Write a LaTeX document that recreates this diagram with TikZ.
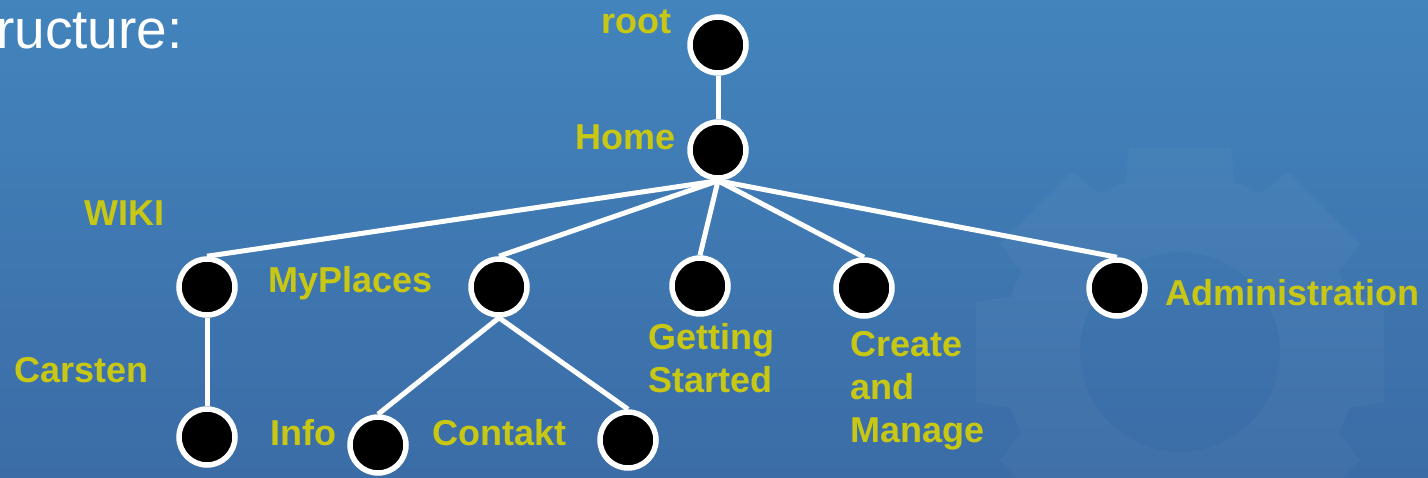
\documentclass[tikz,border=0pt]{standalone}
\usepackage{fontspec}
\setmainfont{Liberation Sans}
\definecolor{lblc}{RGB}{200,200,20}
\definecolor{bgtop}{RGB}{67,132,189}
\definecolor{bgbot}{RGB}{59,108,166}
\pgfdeclarelayer{bg}
\pgfsetlayers{bg,main}
\begin{document}
\begin{tikzpicture}[x=1pt,y=-1pt,
  dot/.style={circle,fill=black,draw=white,line width=5.5pt,minimum size=56pt,inner sep=0pt},
  lbl/.style={text=lblc,font=\fontsize{36}{43}\selectfont\bfseries,inner sep=0pt},
  edge/.style={draw=white,line width=5pt}]
\useasboundingbox (0,0) rectangle (1428,477);
% nodes
\node[dot] (root) at (718,45) {};
\node[dot] (home) at (718,150) {};
\node[dot] (wiki) at (207,287) {};
\node[dot] (my) at (499,287) {};
\node[dot] (get) at (700,286) {};
\node[dot] (cre) at (864,288) {};
\node[dot] (adm) at (1117,288) {};
\node[dot] (car) at (207,437) {};
\node[dot] (info) at (378,445) {};
\node[dot] (con) at (628,440) {};
% labels
\node[text=white,font=\fontsize{55}{60}\selectfont,anchor=base west,inner sep=0pt] (title) at (-4,48) {ructure:};
\node[lbl,anchor=base west] (troot) at (601,33) {root};
\node[lbl,anchor=base west] (thome) at (575,149) {Home};
\node[lbl,anchor=base west] (twiki) at (84,225) {WIKI};
\node[lbl,anchor=base west] (tmy) at (268,292) {MyPlaces};
\node[lbl,anchor=base west] (tcar) at (14,382) {Carsten};
\node[lbl,anchor=base west] (tinfo) at (270,445) {Info};
\node[lbl,anchor=base west] (tcon) at (432,445) {Contakt};
\node[lbl,anchor=base west] (tadm) at (1165,305) {Administration};
\node[lbl,anchor=north west,align=left] (tget) at (648,323) {Getting\\Started};
\node[lbl,anchor=north west,align=left] (tcre) at (850,331) {Create\\and\\Manage};
\begin{pgfonlayer}{bg}
\clip (0,0) rectangle (1428,477);
\shade[top color=bgtop,bottom color=bgbot] (0,0) rectangle (1428,477);
\fill[white,fill opacity=0.03,even odd rule,shift={(1180,352)}]
  (-18:178) \foreach \a in {0,45,...,315} { -- (\a-18:178) -- (\a-14:210) -- (\a+14:210) -- (\a+18:178) arc[start angle=\a+18,end angle=\a+27,radius=178] } -- cycle
  (0,0) circle[radius=100];
\draw[edge] (root) -- (home);
\draw[edge] (home.south) -- (wiki.north);
\draw[edge] (home.south) -- (my.north);
\draw[edge] (home.south) -- (get.north);
\draw[edge] (home.south) -- (cre.north);
\draw[edge] (home.south) -- (adm.north);
\draw[edge] (wiki) -- (car);
\draw[edge] (my.south) -- (info.north);
\draw[edge] (my.south) -- (con.north);
\end{pgfonlayer}
\end{tikzpicture}
\end{document}
